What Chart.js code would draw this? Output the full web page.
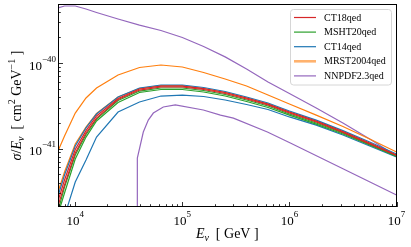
<!DOCTYPE html>
<html><head><meta charset="utf-8">
<script src="https://cdn.jsdelivr.net/npm/chart.js@4/dist/chart.umd.min.js"></script>
<style>html,body{margin:0;padding:0;background:#fff;}#wrap{width:411px;height:247px;}</style>
</head><body><div id="wrap"><canvas id="c" width="411" height="247"></canvas></div>
<script>
// Energies (GeV) for the smooth curves
const energyGeV = [6.9e3, 7.94e3, 1.0e4, 1.26e4, 1.58e4, 2.51e4, 3.98e4, 6.31e4, 1.0e5, 1.58e5, 2.51e5, 3.98e5, 6.31e5, 1.0e6, 1.78e6, 3.16e6, 5.62e6, 1.0e7];
// sigma/E (cm^2 GeV^-1), two bounding curves per PDF set
const ct18Upper   = [2.43e-42, 4.28e-42, 9.73e-42, 1.62e-41, 2.40e-41, 3.85e-41, 4.97e-41, 5.38e-41, 5.38e-41, 5.03e-41, 4.52e-41, 3.90e-41, 3.31e-41, 2.67e-41, 2.10e-41, 1.58e-41, 1.16e-41, 8.40e-42];
const ct18Lower   = [2.13e-42, 3.74e-42, 8.86e-42, 1.52e-41, 2.27e-41, 3.74e-41, 4.83e-41, 5.24e-41, 5.24e-41, 4.90e-41, 4.40e-41, 3.79e-41, 3.23e-41, 2.60e-41, 2.04e-41, 1.54e-41, 1.13e-41, 8.28e-42];
const msht20Upper = [1.86e-42, 3.55e-42, 8.40e-42, 1.46e-41, 2.21e-41, 3.64e-41, 4.70e-41, 5.10e-41, 5.10e-41, 4.77e-41, 4.28e-41, 3.69e-41, 3.14e-41, 2.53e-41, 1.99e-41, 1.52e-41, 1.11e-41, 8.17e-42];
const msht20Lower = [1.71e-42, 3.02e-42, 7.54e-42, 1.36e-41, 2.10e-41, 3.45e-41, 4.52e-41, 4.90e-41, 4.90e-41, 4.58e-41, 4.11e-41, 3.55e-41, 3.02e-41, 2.46e-41, 1.93e-41, 1.48e-41, 1.10e-41, 8.06e-42];
const ct14Upper   = [2.78e-42, 4.90e-42, 1.07e-41, 1.74e-41, 2.53e-41, 4.00e-41, 5.10e-41, 5.53e-41, 5.53e-41, 5.17e-41, 4.64e-41, 4.00e-41, 3.41e-41, 2.75e-41, 2.15e-41, 1.62e-41, 1.19e-41, 8.62e-42];
const ct14Lower   = [8.51e-43, 1.62e-42, 4.06e-42, 7.34e-42, 1.36e-41, 2.67e-41, 3.50e-41, 4.11e-41, 4.22e-41, 4.06e-41, 3.69e-41, 3.27e-41, 2.86e-41, 2.34e-41, 1.88e-41, 1.44e-41, 1.07e-41, 7.95e-42];
const mrstUpper   = [9.35e-42, 1.40e-41, 2.60e-41, 3.90e-41, 5.10e-41, 7.24e-41, 8.86e-41, 9.48e-41, 8.98e-41, 7.74e-41, 6.50e-41, 5.38e-41, 4.22e-41, 3.31e-41, 2.46e-41, 1.81e-41, 1.29e-41, 9.10e-42];
const mrstLower   = [3.10e-42, 5.31e-42, 1.13e-41, 1.78e-41, 2.57e-41, 4.00e-41, 5.03e-41, 5.46e-41, 5.46e-41, 5.03e-41, 4.52e-41, 3.90e-41, 3.31e-41, 2.67e-41, 2.07e-41, 1.56e-41, 1.14e-41, 8.28e-42];
const nnpdfUpper  = [4.40e-40, 4.64e-40, 4.64e-40, 4.28e-40, 3.90e-40, 3.27e-40, 2.78e-40, 2.40e-40, 1.99e-40, 1.56e-40, 1.18e-40, 8.51e-41, 6.00e-41, 4.40e-41, 2.98e-41, 1.99e-41, 1.29e-41, 8.17e-42];
// NNPDF lower curve has its own energy grid (starts with a vertical rise)
const nnpdfLowE   = [3.80e4, 3.80e4, 4.32e4, 4.81e4, 5.36e4, 6.64e4, 8.60e4, 1.57e5, 2.27e5, 3.00e5, 6.23e5, 1.02e6, 3.34e6, 1.0e7];
const nnpdfLower  = [1e-43, 7.74e-42, 1.56e-41, 2.15e-41, 2.60e-41, 3.06e-41, 3.23e-41, 2.82e-41, 2.46e-41, 2.27e-41, 1.56e-41, 1.16e-41, 5.60e-42, 2.86e-42];

const legendLabels = ['CT18qed', 'MSHT20qed', 'CT14qed', 'MRST2004qed', 'NNPDF2.3qed'];
const legendColors = ['#d62728', '#2ca02c', '#1f77b4', '#ff7f0e', '#9467bd'];
const xTickValues = [1e4, 1e5, 1e6, 1e7];
const xTickExps = ['4', '5', '6', '7'];
const yTickValues = [1e-41, 1e-40];
const yTickExps = ['\u221241', '\u221240'];

const X_MIN = 6.9e3, X_MAX = 1e7, Y_MIN = 2.07e-42, Y_MAX = 4.9e-40;

function pts(xs, ys) { return xs.map((x, i) => ({x: x, y: ys[i]})); }
function ds(label, xs, ys, color) {
  return {label: label, data: pts(xs, ys), borderColor: color, backgroundColor: color,
    borderWidth: 1.2, pointRadius: 0, showLine: true, fill: false, tension: 0};
}
const datasets = [
  ds('CT18qed', energyGeV, ct18Upper, legendColors[0]),
  ds('CT18qed', energyGeV, ct18Lower, legendColors[0]),
  ds('MSHT20qed', energyGeV, msht20Upper, legendColors[1]),
  ds('MSHT20qed', energyGeV, msht20Lower, legendColors[1]),
  ds('CT14qed', energyGeV, ct14Upper, legendColors[2]),
  ds('CT14qed', energyGeV, ct14Lower, legendColors[2]),
  ds('MRST2004qed', energyGeV, mrstUpper, legendColors[3]),
  ds('MRST2004qed', energyGeV, mrstLower, legendColors[3]),
  ds('NNPDF2.3qed', energyGeV, nnpdfUpper, legendColors[4]),
  ds('NNPDF2.3qed', nnpdfLowE, nnpdfLower, legendColors[4])
];

const SERIF = '"Liberation Serif", "DejaVu Serif", serif';
function font(size, italic) { return (italic ? 'italic ' : '') + size + 'px ' + SERIF; }
function drawParts(ctx, parts, x, y, align) {
  let w = 0;
  parts.forEach(p => { ctx.font = font(p.s, p.i); p.w = ctx.measureText(p.t).width; w += p.w; });
  let cx = align === 'center' ? x - w / 2 : (align === 'right' ? x - w : x);
  ctx.textAlign = 'left'; ctx.textBaseline = 'alphabetic';
  parts.forEach(p => { ctx.font = font(p.s, p.i); ctx.fillText(p.t, cx, y + (p.dy || 0)); cx += p.w; });
}

const decor = {
  id: 'decor',
  afterDraw(chart) {
    const ctx = chart.ctx, a = chart.chartArea, xs = chart.scales.x, ys = chart.scales.y;
    ctx.save();
    ctx.fillStyle = '#000'; ctx.strokeStyle = '#000';
    // frame
    ctx.lineWidth = 1;
    ctx.strokeRect(Math.round(a.left) + 0.5, Math.round(a.top) + 0.5, Math.round(a.right - a.left) - 1, Math.round(a.bottom - a.top) - 1);
    // x ticks (inward)
    ctx.lineWidth = 0.8;
    for (let d = 3; d <= 7; d++) for (let m = 1; m <= 9; m++) {
      const v = m * Math.pow(10, d);
      if (v < X_MIN || v > X_MAX) continue;
      const px = Math.round(xs.getPixelForValue(v)) + 0.5, len = m === 1 ? 5 : 2.8;
      ctx.beginPath(); ctx.moveTo(px, a.bottom); ctx.lineTo(px, a.bottom - len); ctx.stroke();
    }
    for (let d = -43; d <= -39; d++) for (let m = 1; m <= 9; m++) {
      const v = m * Math.pow(10, d);
      if (v < Y_MIN || v > Y_MAX) continue;
      const py = Math.round(ys.getPixelForValue(v)) + 0.5, len = m === 1 ? 5 : 2.8;
      ctx.beginPath(); ctx.moveTo(a.left, py); ctx.lineTo(a.left + len, py); ctx.stroke();
    }
    // tick labels
    xTickValues.forEach((v, i) => {
      const px = xs.getPixelForValue(v);
      drawParts(ctx, [{t: '10', s: 13}, {t: xTickExps[i], s: 9, dy: -8}], px, a.bottom + 18, 'center');
    });
    yTickValues.forEach((v, i) => {
      const py = ys.getPixelForValue(v);
      drawParts(ctx, [{t: '10', s: 13}, {t: yTickExps[i], s: 9, dy: -8}], a.left - 2, py + 6.5, 'right');
    });
    // axis titles
    drawParts(ctx, [{t: 'E', s: 14, i: true}, {t: '\u03bd', s: 10, i: true, dy: 3}, {t: '  [ GeV ]', s: 14}], (a.left + a.right) / 2, 238, 'center');
    ctx.save();
    ctx.translate(21, (a.top + a.bottom) / 2);
    ctx.rotate(-Math.PI / 2);
    drawParts(ctx, [{t: '\u03c3', s: 14, i: true}, {t: '/', s: 14}, {t: 'E', s: 14, i: true}, {t: '\u03bd', s: 10, i: true, dy: 3},
      {t: '  [ cm', s: 14}, {t: '2', s: 10, dy: -6}, {t: ' GeV', s: 14}, {t: '\u22121', s: 10, dy: -6}, {t: ' ]', s: 14}], 0, 0, 'center');
    ctx.restore();
    // legend
    const lx = 290.5, ly = 9.5, lw = 101, lh = 75.5, r = 3;
    ctx.beginPath();
    ctx.moveTo(lx + r, ly); ctx.lineTo(lx + lw - r, ly); ctx.quadraticCurveTo(lx + lw, ly, lx + lw, ly + r);
    ctx.lineTo(lx + lw, ly + lh - r); ctx.quadraticCurveTo(lx + lw, ly + lh, lx + lw - r, ly + lh);
    ctx.lineTo(lx + r, ly + lh); ctx.quadraticCurveTo(lx, ly + lh, lx, ly + lh - r);
    ctx.lineTo(lx, ly + r); ctx.quadraticCurveTo(lx, ly, lx + r, ly); ctx.closePath();
    ctx.fillStyle = 'rgba(255,255,255,0.85)'; ctx.fill();
    ctx.strokeStyle = '#d6d6d6'; ctx.lineWidth = 1; ctx.stroke();
    legendLabels.forEach((lab, i) => {
      const y = 17.5 + i * 14.6;
      ctx.strokeStyle = legendColors[i];
      ctx.globalAlpha = i === 3 ? 0.6 : 1;
      ctx.lineWidth = i === 3 ? 2.6 : 1.2;
      ctx.beginPath(); ctx.moveTo(294, y); ctx.lineTo(316, y); ctx.stroke();
      ctx.globalAlpha = 1;
      ctx.fillStyle = '#000';
      ctx.font = font(10); ctx.textAlign = 'left'; ctx.textBaseline = 'middle';
      ctx.fillText(lab, 324, y + 0.5);
    });
    ctx.restore();
  }
};

new Chart(document.getElementById('c'), {
  type: 'scatter',
  data: {datasets: datasets},
  options: {
    responsive: false, animation: false, devicePixelRatio: 1,
    layout: {padding: {left: 58, right: 14.5, top: 4, bottom: 40}},
    plugins: {legend: {display: false}, tooltip: {enabled: false}},
    scales: {
      x: {type: 'logarithmic', min: X_MIN, max: X_MAX, display: false, bounds: 'data'},
      y: {type: 'logarithmic', min: Y_MIN, max: Y_MAX, display: false, bounds: 'data'}
    }
  },
  plugins: [decor]
});
</script>
</body></html>
